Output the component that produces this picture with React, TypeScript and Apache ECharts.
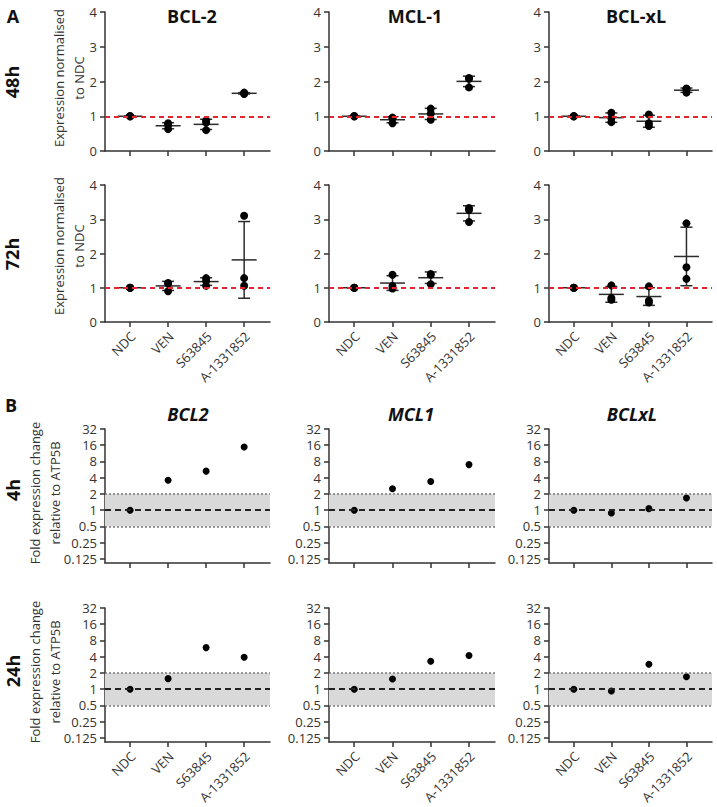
import React, { useEffect, useRef } from "react";
import * as echarts from "echarts";

// ---------- data ----------
const categories = ["NDC", "VEN", "S63845", "A-1331852"];
const genesA = ["BCL-2", "MCL-1", "BCL-xL"];
const genesB = ["BCL2", "MCL1", "BCLxL"];
const timesA = ["48h", "72h"];
const timesB = ["4h", "24h"];
const ticksA = [0, 1, 2, 3, 4];
const ticksB = [0.125, 0.25, 0.5, 1, 2, 4, 8, 16, 32];

// Panel A: replicate values (normalised to NDC), per category
const bcl2_48h = [[1, 1, 1], [0.8, 0.75, 0.63], [0.88, 0.82, 0.6], [1.68, 1.64, 1.66]];
const mcl1_48h = [[1, 1, 1], [0.96, 0.94, 0.8], [1.22, 1.08, 0.9], [2.1, 2.08, 1.83]];
const bclxl_48h = [[1, 1, 1], [1.1, 0.95, 0.83], [1.05, 0.8, 0.72], [1.8, 1.77, 1.68]];
const bcl2_72h = [[1, 1, 1], [1.14, 1.12, 0.9], [1.28, 1.2, 1.06], [3.1, 1.28, 1.06]];
const mcl1_72h = [[1, 1, 1], [1.38, 1.05, 0.98], [1.4, 1.38, 1.1], [3.33, 3.27, 2.92]];
const bclxl_72h = [[1, 1, 1], [1.07, 0.7, 0.65], [1.04, 0.62, 0.57], [2.88, 1.6, 1.26]];

// Panel B: fold expression change relative to ATP5B
const bcl2_4h = [1, 3.6, 5.3, 14.9];
const mcl1_4h = [1, 2.5, 3.4, 7.0];
const bclxl_4h = [1, 0.89, 1.07, 1.69];
const bcl2_24h = [1, 1.57, 5.9, 3.9];
const mcl1_24h = [1, 1.55, 3.3, 4.2];
const bclxl_24h = [1, 0.93, 2.9, 1.7];

const panelsA = [
  [bcl2_48h, mcl1_48h, bclxl_48h],
  [bcl2_72h, mcl1_72h, bclxl_72h],
];
const panelsB = [
  [bcl2_4h, mcl1_4h, bclxl_4h],
  [bcl2_24h, mcl1_24h, bclxl_24h],
];

// ---------- layout ----------
const FONT = "'Open Sans', 'Noto Sans', sans-serif";
const TEXT = "#333";
const colLeft = [105, 329, 549];
const colWidth = [165, 166, 163];
const rowsA = [
  { top: 12, height: 139 },
  { top: 185, height: 137 },
];
const rowsB = [
  { top: 429, height: 134 },
  { top: 608, height: 134 },
];
const X_MIN = -0.66;
const X_MAX = 3.68;
const B_MIN = -3.25;
const B_MAX = 5;

function stats(vals: number[]) {
  const n = vals.length;
  const mean = vals.reduce((a, b) => a + b, 0) / n;
  const v = vals.reduce((a, b) => a + (b - mean) * (b - mean), 0) / (n - 1);
  return { mean, sd: Math.sqrt(v) };
}

// grids whose x axis carries category labels, with their y minimum
const labelledGrids: { gi: number; yMin: number }[] = [];

function buildOption() {
  const grid: any[] = [];
  const xAxis: any[] = [];
  const yAxis: any[] = [];
  const series: any[] = [];
  const axisLine = { show: true, onZero: false, lineStyle: { color: TEXT, width: 1.5 } };
  labelledGrids.length = 0;

  const addX = (gi: number) => {
    xAxis.push({
      type: "value",
      gridIndex: gi,
      min: X_MIN,
      max: X_MAX,
      axisLine,
      splitLine: { show: false },
      axisTick: {
        show: true,
        customValues: [0, 1, 2, 3],
        length: 5,
        lineStyle: { color: TEXT, width: 1.5 },
      },
      axisLabel: { show: false },
    });
  };

  let gi = 0;
  // Panel A
  panelsA.forEach((row, r) => {
    row.forEach((panel, c) => {
      grid.push({
        left: colLeft[c],
        top: rowsA[r].top,
        width: colWidth[c],
        height: rowsA[r].height,
        containLabel: false,
        outerBoundsMode: "none",
      });
      addX(gi);
      if (r === 1) labelledGrids.push({ gi, yMin: ticksA[0] });
      yAxis.push({
        type: "value",
        gridIndex: gi,
        min: ticksA[0],
        max: ticksA[ticksA.length - 1],
        interval: 1,
        axisLine,
        splitLine: { show: false },
        axisTick: { show: true, length: 5, lineStyle: { color: TEXT, width: 1.5 } },
        axisLabel: { margin: 8, fontSize: 13, lineHeight: 14, fontFamily: FONT, color: TEXT },
      });
      series.push({
        type: "scatter",
        xAxisIndex: gi,
        yAxisIndex: gi,
        data: [],
        silent: true,
        z: 1,
        markLine: {
          silent: true,
          symbol: "none",
          label: { show: false },
          lineStyle: { color: "#e3262c", type: [5, 4], width: 2 },
          data: [{ yAxis: 1 }],
        },
      });
      const pts: number[][] = [];
      panel.forEach((vals, i) => vals.forEach((v) => pts.push([i, v])));
      series.push({
        type: "scatter",
        xAxisIndex: gi,
        yAxisIndex: gi,
        data: pts,
        symbol: "circle",
        symbolSize: 8,
        itemStyle: { color: "#000", opacity: 1 },
        z: 4,
      });
      series.push({
        type: "custom",
        xAxisIndex: gi,
        yAxisIndex: gi,
        z: 3,
        encode: { x: 0, y: 1 },
        data: panel.map((vals, i) => {
          const s = stats(vals);
          return [i, s.mean, s.sd];
        }),
        renderItem: (params: any, api: any) => {
          const x = api.value(0);
          const m = api.value(1);
          const sd = api.value(2);
          const pm = api.coord([x, m]);
          const pt = api.coord([x, m + sd]);
          const pb = api.coord([x, m - sd]);
          const style = { stroke: "#2b2b2b", lineWidth: 1.5, fill: null };
          return {
            type: "group",
            children: [
              { type: "line", shape: { x1: pm[0] - 12.5, y1: pm[1], x2: pm[0] + 12.5, y2: pm[1] }, style },
              { type: "line", shape: { x1: pt[0], y1: pt[1], x2: pb[0], y2: pb[1] }, style },
              { type: "line", shape: { x1: pt[0] - 6, y1: pt[1], x2: pt[0] + 6, y2: pt[1] }, style },
              { type: "line", shape: { x1: pb[0] - 6, y1: pb[1], x2: pb[0] + 6, y2: pb[1] }, style },
            ],
          };
        },
      });
      gi++;
    });
  });

  // Panel B
  const bTickPos = ticksB.map((t) => Math.log2(t));
  panelsB.forEach((row, r) => {
    row.forEach((panel, c) => {
      grid.push({
        left: colLeft[c],
        top: rowsB[r].top,
        width: colWidth[c],
        height: rowsB[r].height,
        containLabel: false,
        outerBoundsMode: "none",
      });
      addX(gi);
      if (r === 1) labelledGrids.push({ gi, yMin: B_MIN });
      yAxis.push({
        type: "value",
        gridIndex: gi,
        min: B_MIN,
        max: B_MAX,
        axisLine,
        splitLine: { show: false },
        axisTick: {
          show: true,
          customValues: bTickPos,
          length: 5,
          lineStyle: { color: TEXT, width: 1.5 },
        },
        axisLabel: {
          customValues: bTickPos,
          margin: 8,
          fontSize: 13,
          lineHeight: 14,
          fontFamily: FONT,
          color: TEXT,
          formatter: (v: number) => String(ticksB[Math.round(v) + 3]),
        },
      });
      series.push({
        type: "scatter",
        xAxisIndex: gi,
        yAxisIndex: gi,
        data: [],
        silent: true,
        z: 1,
        markArea: {
          silent: true,
          itemStyle: { color: "#d9d9d9" },
          data: [[{ yAxis: Math.log2(0.5) }, { yAxis: Math.log2(2) }]],
        },
        markLine: {
          silent: true,
          symbol: "none",
          label: { show: false },
          data: [
            { yAxis: Math.log2(2), lineStyle: { color: "#777", type: [2, 2], width: 1.5 } },
            { yAxis: Math.log2(0.5), lineStyle: { color: "#777", type: [2, 2], width: 1.5 } },
            { yAxis: 0, lineStyle: { color: "#222", type: [6, 4], width: 2 } },
          ],
        },
      });
      series.push({
        type: "scatter",
        xAxisIndex: gi,
        yAxisIndex: gi,
        data: panel.map((v, i) => [i, Math.log2(v)]),
        symbol: "circle",
        symbolSize: 7,
        itemStyle: { color: "#000", opacity: 1 },
        z: 4,
      });
      gi++;
    });
  });

  // Texts
  const graphic: any[] = [];
  let tid = 0;
  const txt = (x: number, y: number, text: string, opts: any = {}, rotation = 0) =>
    graphic.push({
      id: "t" + tid++,
      type: "text",
      x,
      y,
      rotation,
      silent: true,
      style: {
        text,
        fontFamily: FONT,
        fill: opts.fill ?? "#111",
        fontSize: opts.fontSize ?? 17,
        fontWeight: opts.fontWeight ?? "bold",
        fontStyle: opts.fontStyle ?? "normal",
        lineHeight: opts.lineHeight,
        textAlign: opts.align ?? "center",
        textVerticalAlign: "middle",
      },
    });

  txt(13, 16, "A", { fontSize: 18 });
  txt(11, 405, "B", { fontSize: 18 });
  const titleXA = [192, 415, 636];
  const titleXB = [188, 411, 632];
  genesA.forEach((g, c) => txt(titleXA[c], 16, g, { fontSize: 18 }));
  genesB.forEach((g, c) => txt(titleXB[c], 414, g, { fontSize: 18, fontStyle: "italic" }));
  txt(12, 82, timesA[0], { fontSize: 18 }, Math.PI / 2);
  txt(12, 254, timesA[1], { fontSize: 18 }, Math.PI / 2);
  txt(13, 490, timesB[0], { fontSize: 18 }, Math.PI / 2);
  txt(13, 671, timesB[1], { fontSize: 18 }, Math.PI / 2);
  const nameA = "Expression normalised\nto NDC";
  const nameB = "Fold expression change\nrelative to ATP5B";
  const nameOpts = { fontSize: 13, fontWeight: "normal", fill: TEXT, lineHeight: 20 };
  txt(69, 78, nameA, nameOpts, Math.PI / 2);
  txt(69, 246, nameA, nameOpts, Math.PI / 2);
  txt(45, 493, nameB, nameOpts, Math.PI / 2);
  txt(45, 672, nameB, nameOpts, Math.PI / 2);

  return {
    animation: false,
    backgroundColor: "#fff",
    textStyle: { fontFamily: FONT },
    grid,
    xAxis,
    yAxis,
    series,
    graphic,
  };
}

export default function App() {
  const ref = useRef<HTMLDivElement>(null);
  useEffect(() => {
    if (!ref.current) return;
    const chart = echarts.init(ref.current, undefined, { renderer: "svg" });
    const option: any = buildOption();
    chart.setOption(option);
    // category labels, rotated 45 degrees, placed at the axis ticks via the chart's own scales
    const labels: any[] = [];
    labelledGrids.forEach(({ gi, yMin }) => {
      categories.forEach((name, i) => {
        const p = chart.convertToPixel({ xAxisIndex: gi, yAxisIndex: gi } as any, [i, yMin]) as number[];
        if (!p) return;
        labels.push({
          id: `xl-${gi}-${i}`,
          type: "text",
          x: p[0] + 3,
          y: p[1] + 12,
          rotation: Math.PI / 4,
          silent: true,
          style: {
            text: name,
            fontFamily: FONT,
            fontSize: 13,
            fill: TEXT,
            textAlign: "right",
            textVerticalAlign: "middle",
          },
        });
      });
    });
    chart.setOption({ graphic: [...option.graphic, ...labels] });
    return () => chart.dispose();
  }, []);
  return (
    <div
      ref={ref}
      style={{ position: "absolute", left: 0, top: 0, width: 717, height: 807, background: "#fff" }}
    />
  );
}
